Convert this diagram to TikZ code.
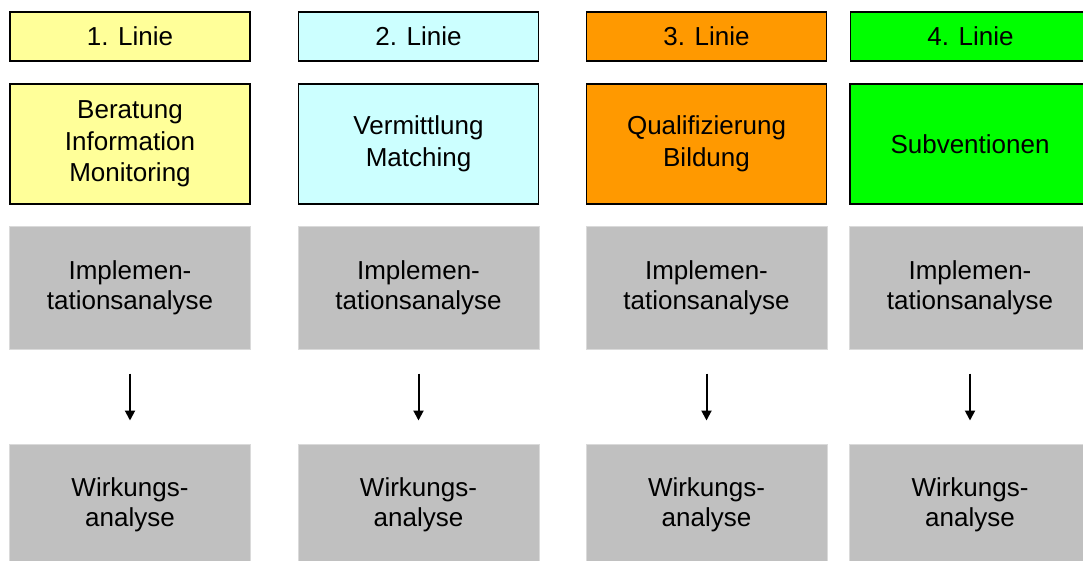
\documentclass[tikz,border=0pt]{standalone}
\usepackage{fontspec}
\setmainfont{Liberation Sans}
\usetikzlibrary{arrows.meta}
\definecolor{lyellow}{HTML}{FFFF99}
\definecolor{lcyan}{HTML}{CCFFFF}
\definecolor{lorange}{HTML}{FF9900}
\definecolor{lgreen}{HTML}{00FF00}
\definecolor{anagray}{HTML}{C0C0C0}
\definecolor{anaedge}{HTML}{DADADA}
\begin{document}
\begin{tikzpicture}[x=1pt,y=-1pt,
  box/.style={rectangle, inner sep=0pt, align=center, text=black},
  head/.style={box, draw=black, line width=1.5pt, minimum width=240pt, minimum height=49pt, font=\fontsize{26}{31}\selectfont},
  topic/.style={box, draw=black, line width=1.5pt, minimum width=240pt, minimum height=120pt, font=\fontsize{26}{31.5}\selectfont},
  ana/.style={box, fill=anagray, draw=anaedge, line width=1pt, minimum width=241pt, minimum height=122pt, font=\fontsize{26}{30}\selectfont},
  flow/.style={-{Triangle[width=10pt,length=10pt]}, line width=2pt, shorten <=24pt, shorten >=23pt}]
\useasboundingbox (0,0) rectangle (1083,561);
\clip (0,0) rectangle (1083,561);

% column 1
\node[head, fill=lyellow] (h1) at (130,36.5) {1. Linie};
\node[topic, fill=lyellow] (t1) at (130,144) {Beratung\\Information\\Monitoring};
\node[ana] (a1) at (130,288) {Implemen-\\tationsanalyse};
\node[ana] (w1) at (130,505) {Wirkungs-\\analyse};
% column 2
\node[head, fill=lcyan] (h2) at (418.5,36.5) {2. Linie};
\node[topic, fill=lcyan] (t2) at (418.5,144) {Vermittlung\\Matching};
\node[ana] (a2) at (418.5,288) {Implemen-\\tationsanalyse};
\node[ana] (w2) at (418.5,505) {Wirkungs-\\analyse};
% column 3
\node[head, fill=lorange] (h3) at (706.5,36.5) {3. Linie};
\node[topic, fill=lorange] (t3) at (706.5,144) {Qualifizierung\\Bildung};
\node[ana] (a3) at (706.5,288) {Implemen-\\tationsanalyse};
\node[ana] (w3) at (706.5,505) {Wirkungs-\\analyse};
% column 4
\node[head, fill=lgreen] (h4) at (970.5,36.5) {4. Linie};
\node[topic, fill=lgreen] (t4) at (970,144) {Subventionen};
\node[ana] (a4) at (970,288) {Implemen-\\tationsanalyse};
\node[ana] (w4) at (970,505) {Wirkungs-\\analyse};

\draw[flow] (a1) -- (w1);
\draw[flow] (a2) -- (w2);
\draw[flow] (a3) -- (w3);
\draw[flow] (a4) -- (w4);
\end{tikzpicture}
\end{document}
